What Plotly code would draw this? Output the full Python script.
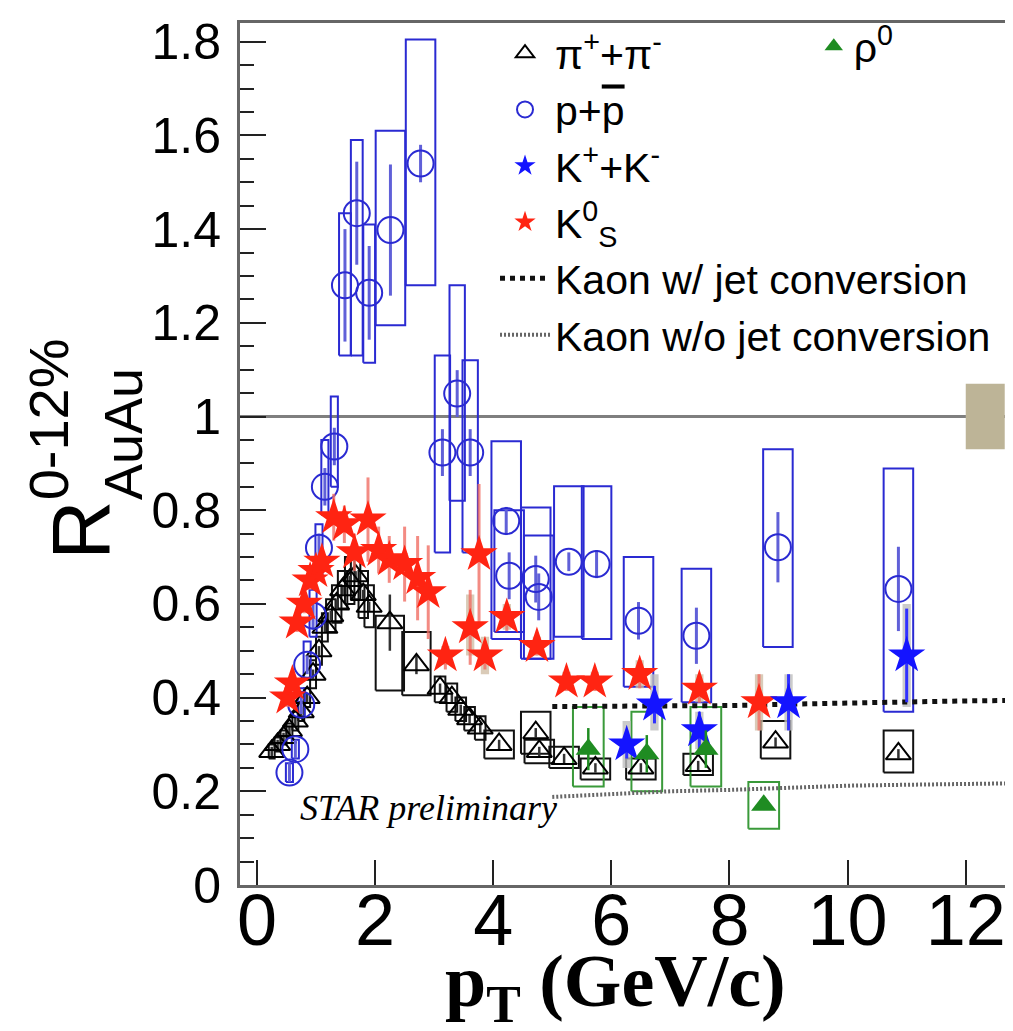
import plotly.graph_objects as go

# ---------------- data ----------------
# pi+ + pi-
pi_pt = [0.25, 0.35, 0.45, 0.55, 0.65, 0.75, 0.85, 0.95, 1.05, 1.15, 1.25, 1.35, 1.45, 1.57, 1.67, 1.8, 1.9,
         2.25, 2.7, 3.1, 3.3, 3.45, 3.6, 3.78, 4.1, 4.72, 4.78, 5.2, 5.73, 6.5, 7.47, 8.78, 10.86]
pi_v = [0.285, 0.30, 0.315, 0.33, 0.35, 0.37, 0.40, 0.45, 0.50, 0.55, 0.575, 0.60, 0.63, 0.65, 0.66, 0.62, 0.595,
        0.56, 0.47, 0.42, 0.40, 0.375, 0.355, 0.335, 0.30, 0.325, 0.285, 0.27, 0.25, 0.25, 0.255, 0.305, 0.28]
pi_stat = [0.01, 0.01, 0.01, 0.01, 0.01, 0.01, 0.01, 0.01, 0.01, 0.01, 0.01, 0.01, 0.01, 0.01, 0.01, 0.01, 0.01,
           0.06, 0.02, 0.01, 0.01, 0.01, 0.01, 0.01, 0.01, 0.01, 0.01, 0.01, 0.01, 0.01, 0.01, 0.01, 0.01]
pi_lo = [0.27, 0.285, 0.30, 0.315, 0.33, 0.35, 0.38, 0.42, 0.47, 0.52, 0.54, 0.56, 0.59, 0.60, 0.61, 0.57, 0.55,
         0.415, 0.405, 0.39, 0.37, 0.35, 0.33, 0.31, 0.27, 0.28, 0.26, 0.25, 0.225, 0.225, 0.235, 0.27, 0.24]
pi_hi = [0.30, 0.315, 0.33, 0.345, 0.37, 0.39, 0.42, 0.48, 0.53, 0.58, 0.61, 0.64, 0.67, 0.70, 0.71, 0.67, 0.64,
         0.575, 0.54, 0.445, 0.43, 0.40, 0.38, 0.36, 0.33, 0.37, 0.31, 0.295, 0.27, 0.27, 0.28, 0.35, 0.33]

# p + pbar
pr_pt = [0.55, 0.65, 0.75, 0.85, 0.95, 1.05, 1.15, 1.31, 1.49, 1.69, 1.9, 2.26, 2.77, 3.14, 3.39, 3.61,
         4.22, 4.27, 4.72, 4.77, 5.28, 5.75, 6.46, 7.44, 8.82, 10.86]
pr_v = [0.24, 0.29, 0.385, 0.47, 0.575, 0.72, 0.85, 0.936, 1.28, 1.434, 1.264, 1.398, 1.54, 0.923, 1.049, 0.923,
        0.777, 0.66, 0.653, 0.615, 0.69, 0.685, 0.564, 0.532, 0.721, 0.632]
pr_stat = [0.02, 0.02, 0.02, 0.02, 0.03, 0.03, 0.04, 0.04, 0.12, 0.11, 0.10, 0.14, 0.04, 0.05, 0.05, 0.05,
           0.03, 0.05, 0.05, 0.05, 0.02, 0.03, 0.04, 0.06, 0.075, 0.09]
pr_lo = [0.22, 0.27, 0.36, 0.44, 0.53, 0.66, 0.79, 0.85, 1.13, 1.13, 1.115, 1.195, 1.28, 0.71, 0.82, 0.71,
         0.525, 0.54, 0.483, 0.483, 0.53, 0.525, 0.423, 0.39, 0.508, 0.37]
pr_hi = [0.26, 0.31, 0.42, 0.52, 0.63, 0.77, 0.95, 1.043, 1.434, 1.59, 1.41, 1.61, 1.805, 1.13, 1.28, 1.12,
         0.947, 0.80, 0.806, 0.746, 0.851, 0.851, 0.70, 0.675, 0.93, 0.889]

# K+ + K-
kc_pt = [6.26, 6.73, 7.49, 9.0, 11.0]
kc_v = [0.30, 0.385, 0.33, 0.39, 0.49]
kc_stat = [0.03, 0.04, 0.04, 0.06, 0.10]
kc_lo = [0.25, 0.33, 0.29, 0.33, 0.38]
kc_hi = [0.35, 0.45, 0.37, 0.45, 0.60]

# K0_S
k0_pt = [0.52, 0.6, 0.68, 0.8, 0.9, 1.0, 1.1, 1.3, 1.48, 1.65, 1.88, 2.06, 2.24, 2.5, 2.72, 2.9,
         3.19, 3.61, 3.76, 3.86, 4.23, 4.74, 5.24, 5.72, 6.48, 7.49, 8.5]
k0_v = [0.40, 0.43, 0.56, 0.60, 0.65, 0.67, 0.69, 0.785, 0.77, 0.71, 0.78, 0.715, 0.695, 0.685, 0.655, 0.625,
        0.49, 0.55, 0.706, 0.49, 0.572, 0.51, 0.434, 0.434, 0.45, 0.419, 0.39]
k0_stat = [0.02, 0.02, 0.02, 0.02, 0.02, 0.02, 0.03, 0.05, 0.04, 0.04, 0.09, 0.05, 0.05, 0.08, 0.09, 0.10,
           0.03, 0.08, 0.15, 0.03, 0.03, 0.02, 0.02, 0.02, 0.03, 0.03, 0.06]
k0_sys_pt = [3.19, 3.61, 3.86, 4.23, 4.74, 5.24, 5.72, 6.48, 7.49, 8.5]
k0_sys_lo = [0.47, 0.49, 0.45, 0.545, 0.49, 0.415, 0.415, 0.42, 0.39, 0.33]
k0_sys_hi = [0.51, 0.62, 0.53, 0.60, 0.53, 0.455, 0.455, 0.48, 0.45, 0.45]

# rho0
rho_pt = [5.61, 6.6, 7.6, 8.58]
rho_v = [0.29, 0.28, 0.29, 0.17]
rho_stat = [0.045, 0.04, 0.04, 0.01]
rho_lo = [0.21, 0.20, 0.21, 0.12]
rho_hi = [0.38, 0.37, 0.38, 0.22]

# model curves
kw_pt = [5.0, 6.0, 7.0, 8.0, 9.0, 10.0, 11.0, 12.0, 12.8]
kw_v = [0.381, 0.381, 0.382, 0.383, 0.386, 0.389, 0.391, 0.393, 0.394]
kwo_pt = [5.0, 6.0, 7.0, 8.0, 9.0, 10.0, 11.0, 12.0, 12.8]
kwo_v = [0.188, 0.195, 0.200, 0.203, 0.208, 0.212, 0.214, 0.216, 0.217]

# normalisation uncertainty
norm_pt = [12.0, 12.66]
norm_band = [0.93, 1.07]

x_ticks = [0, 2, 4, 6, 8, 10, 12]

# ---------------- helpers ----------------
def pion_hw(p):
    if p < 1.2:
        return 0.05
    if p < 2:
        return 0.08
    if p < 3:
        return 0.24
    if p < 4:
        return 0.09
    return 0.25


def proton_hw(p):
    if p < 1.4:
        return 0.06
    if p < 2:
        return 0.1
    if p < 3:
        return 0.25
    if p < 4:
        return 0.13
    return 0.25


def rect_path(pts, lo, hi, hwfun):
    xs, ys = [], []
    for p, l, h in zip(pts, lo, hi):
        w = hwfun(p)
        xs += [p - w, p + w, p + w, p - w, p - w, None]
        ys += [l, l, h, h, l, None]
    return xs, ys


FONT = "Liberation Sans, Arial, sans-serif"
SERIF = "Liberation Serif, Times New Roman, serif"
BLACK = "#000000"
PBLUE = "#2a2ad2"
KBLUE = "#1414ff"
RED = "#ff2412"
GREEN = "#1f8c22"

fig = go.Figure()

# systematic boxes
x, y = rect_path(pi_pt, pi_lo, pi_hi, pion_hw)
fig.add_trace(go.Scatter(x=x, y=y, mode="lines", line=dict(color="#111111", width=2),
                         showlegend=False, hoverinfo="skip"))
x, y = rect_path(pr_pt, pr_lo, pr_hi, proton_hw)
fig.add_trace(go.Scatter(x=x, y=y, mode="lines", line=dict(color=PBLUE, width=2),
                         showlegend=False, hoverinfo="skip"))
x, y = rect_path(rho_pt, rho_lo, rho_hi, lambda p: 0.26)
fig.add_trace(go.Scatter(x=x, y=y, mode="lines", line=dict(color="#3a9a3a", width=2),
                         showlegend=False, hoverinfo="skip"))
x, y = rect_path(kc_pt, kc_lo, kc_hi, lambda p: 0.07)
fig.add_trace(go.Scatter(x=x, y=y, mode="lines", fill="toself", fillcolor="rgba(190,190,190,0.8)",
                         line=dict(width=0, color="rgba(0,0,0,0)"), showlegend=False, hoverinfo="skip"))
x, y = rect_path(k0_sys_pt, k0_sys_lo, k0_sys_hi, lambda p: 0.07)
fig.add_trace(go.Scatter(x=x, y=y, mode="lines", fill="toself", fillcolor="rgba(205,185,160,0.75)",
                         line=dict(width=0, color="rgba(0,0,0,0)"), showlegend=False, hoverinfo="skip"))

# model curves
fig.add_trace(go.Scatter(x=kw_pt, y=kw_v, mode="lines", name="Kaon w/ jet conversion",
                         line=dict(color="#111111", width=5, dash="dot"), legendrank=5))
fig.add_trace(go.Scatter(x=kwo_pt, y=kwo_v, mode="lines", name="Kaon w/o jet conversion",
                         line=dict(color="#666666", width=4, dash="2px,2px"), legendrank=6))

# data points
fig.add_trace(go.Scatter(x=pi_pt, y=pi_v, mode="markers", name="π<sup>+</sup>+π<sup>-</sup>",
                         marker=dict(symbol="triangle-up-open", size=22, color=BLACK, line=dict(width=2)),
                         error_y=dict(type="data", array=pi_stat, thickness=2.5, width=0, color="#333333"),
                         legendrank=1))
fig.add_trace(go.Scatter(x=pr_pt, y=pr_v, mode="markers",
                         name="p+<span style='text-decoration:overline'>p</span>",
                         marker=dict(symbol="circle-open", size=26, color=PBLUE, line=dict(width=2)),
                         error_y=dict(type="data", array=pr_stat, thickness=3, width=0, color="#6060d8"),
                         legendrank=2))
fig.add_trace(go.Scatter(x=k0_pt, y=k0_v, mode="markers", name="K<sup>0</sup><sub>S</sub>",
                         marker=dict(symbol="star", size=28, color=RED, line=dict(width=0)),
                         error_y=dict(type="data", array=k0_stat, thickness=3, width=0, color="rgba(240,110,100,0.8)"),
                         legendrank=4))
fig.add_trace(go.Scatter(x=kc_pt, y=kc_v, mode="markers", name="K<sup>+</sup>+K<sup>-</sup>",
                         marker=dict(symbol="star", size=28, color=KBLUE, line=dict(width=0)),
                         error_y=dict(type="data", array=kc_stat, thickness=3, width=0, color="#3030ff"),
                         legendrank=3))
fig.add_trace(go.Scatter(x=rho_pt, y=rho_v, mode="markers", name="ρ<sup>0</sup>",
                         marker=dict(symbol="triangle-up", size=22, color=GREEN, line=dict(width=0)),
                         error_y=dict(type="data", array=rho_stat, thickness=2.5, width=0, color=GREEN),
                         legend="legend2"))

PLOT_L, PLOT_R, PLOT_T, PLOT_B = 232, 1008, 12, 877
W, H = 1013, 1031


def px(xp):
    return (xp - PLOT_L) / (PLOT_R - PLOT_L)


def py(yp):
    return (PLOT_B - yp) / (PLOT_B - PLOT_T)


fig.update_layout(
    width=W, height=H,
    margin=dict(l=PLOT_L, r=W - PLOT_R, t=PLOT_T, b=H - PLOT_B),
    paper_bgcolor="white", plot_bgcolor="white",
    font=dict(family=FONT, color=BLACK),
    showlegend=True,
    legend=dict(x=px(488), y=py(9), xanchor="left", yanchor="top", bgcolor="rgba(0,0,0,0)",
                font=dict(size=41, family=FONT, color=BLACK), itemwidth=50, tracegroupgap=0,
                traceorder="normal"),
    legend2=dict(x=px(808), y=py(2), xanchor="left", yanchor="top", bgcolor="rgba(0,0,0,0)",
                 font=dict(size=41, family=FONT, color=BLACK)),
    xaxis=dict(range=[-0.287, 12.8], tickmode="array", tickvals=x_ticks, ticks="inside", ticklen=25,
               tickwidth=2, tickcolor="#222222", showline=True, linecolor="#666666", linewidth=3,
               mirror=True, showgrid=False, zeroline=False, ticklabelstandoff=-29,
               tickfont=dict(size=72, family=FONT, color=BLACK)),
    yaxis=dict(range=[0, 1.84], dtick=0.2, tick0=0, ticks="inside", ticklen=26, tickwidth=2,
               tickcolor="#222222", showline=True, linecolor="#666666", linewidth=3, mirror=True,
               showgrid=False, zeroline=False, ticklabelstandoff=6,
               minor=dict(dtick=0.05, ticks="inside", ticklen=14, tickwidth=2, tickcolor="#222222"),
               tickfont=dict(size=50, family=FONT, color=BLACK)),
    shapes=[
        dict(type="line", xref="paper", x0=0, x1=1, yref="y", y0=1, y1=1,
             line=dict(color="#7f7f7f", width=3), layer="below"),
        dict(type="rect", xref="x", x0=norm_pt[0], x1=norm_pt[1], yref="y", y0=norm_band[0], y1=norm_band[1],
             fillcolor="#bdb497", line=dict(width=0), layer="above"),
        dict(type="rect", xref="paper", x0=px(1006), x1=px(1014), yref="paper", y0=py(620), y1=py(560),
             fillcolor="#1f4fb0", line=dict(width=0), layer="above"),
    ],
    annotations=[
        dict(text="R", xref="paper", yref="paper", x=px(72), y=py(521), textangle=-90,
             showarrow=False, xanchor="center", yanchor="middle", font=dict(size=82, family=FONT, color=BLACK)),
        dict(text="AuAu", xref="paper", yref="paper", x=px(114), y=py(424), textangle=-90,
             showarrow=False, xanchor="center", yanchor="middle", font=dict(size=54, family=FONT, color=BLACK)),
        dict(text="0-12%", xref="paper", yref="paper", x=px(40), y=py(410), textangle=-90,
             showarrow=False, xanchor="center", yanchor="middle", font=dict(size=56, family=FONT, color=BLACK)),
        dict(text="<b>p<sub>T</sub> (GeV/c)</b>", xref="paper", yref="paper", x=px(609), y=py(979),
             showarrow=False, xanchor="center", yanchor="middle",
             font=dict(size=74, family=SERIF, color=BLACK)),
        dict(text="<i>STAR preliminary</i>", xref="paper", yref="paper", x=px(421), y=py(800),
             showarrow=False, xanchor="center", yanchor="middle",
             font=dict(size=36, family=SERIF, color=BLACK)),
    ],
)

fig.write_html("out.html")
